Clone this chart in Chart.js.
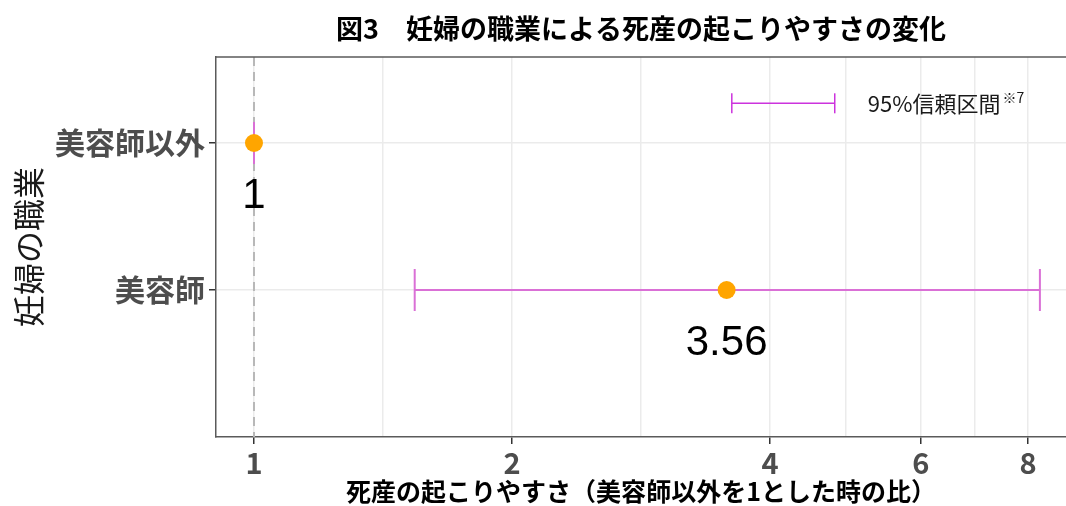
<!DOCTYPE html>
<html>
<head>
<meta charset="utf-8">
<script src="https://cdn.jsdelivr.net/npm/chart.js@4"></script>
<style>
  body { margin: 0; background: #fff; }
  .wrap { width: 1066px; height: 506px; }
</style>
</head>
<body>
<div class="wrap"><canvas id="myChart"></canvas></div>
<script>
// data
let categories = ["美容師以外", "美容師"];
let ratio = [1, 3.56];
let ratioLabels = ["1", "3.56"];
let lower = [1, 1.54];
let upper = [1, 8.26];

let xTicks = [1, 2, 4, 6, 8];
let xMinor = [1.414, 2.828, 4.899, 6.928];

// legend sample (placed in data space, top right)
let legendX = [3.61, 4.76];
let legendY = 0.73;
let legendText = "95%信頼区間";
let legendNote = "※7";

const narrow = '"Liberation Sans Narrow", "Noto Sans CJK JP", sans-serif';
const cjk = '"Noto Sans CJK JP", sans-serif';
const ciColor = "#da70d6";

let datasets = [];
datasets.push({
  type: "scatter",
  data: categories.map((c, i) => ({ x: ratio[i], y: i + 1 })),
  backgroundColor: "#ffa500",
  borderWidth: 0,
  pointRadius: 9,
  pointHoverRadius: 9,
});
categories.forEach((c, i) => {
  datasets.push({
    type: "line",
    data: [
      { x: lower[i], y: i + 1 },
      { x: upper[i], y: i + 1 },
    ],
    borderColor: ciColor,
    borderWidth: 2,
    pointStyle: "line",
    rotation: 90,
    pointRadius: 21,
    pointBorderColor: ciColor,
    pointBorderWidth: 2,
  });
});
datasets.push({
  type: "line",
  data: legendX.map((v) => ({ x: v, y: legendY })),
  borderColor: "#cc33dd",
  borderWidth: 1.5,
  pointStyle: "line",
  rotation: 90,
  pointRadius: 10,
  pointBorderColor: "#cc33dd",
  pointBorderWidth: 1.5,
});

const extras = {
  id: "extras",
  beforeDatasetsDraw(chart) {
    const { ctx, chartArea, scales } = chart;
    // reference line at 1
    let x1 = scales.x.getPixelForValue(1);
    ctx.save();
    ctx.strokeStyle = "#b8b8b8";
    ctx.lineWidth = 2;
    ctx.setLineDash([9, 6]);
    ctx.beginPath();
    ctx.moveTo(x1, chartArea.top);
    ctx.lineTo(x1, chartArea.bottom);
    ctx.stroke();
    ctx.setLineDash([]);
    // top border of panel
    ctx.strokeStyle = "#5a5a5a";
    ctx.lineWidth = 1.5;
    ctx.beginPath();
    ctx.moveTo(chartArea.left, chartArea.top);
    ctx.lineTo(chartArea.right, chartArea.top);
    ctx.stroke();
    ctx.restore();
  },
  afterDatasetsDraw(chart) {
    const { ctx, scales } = chart;
    ctx.save();
    ctx.fillStyle = "#000";
    ctx.font = '42px "Liberation Sans", Arial, sans-serif';
    ctx.textAlign = "center";
    ctx.textBaseline = "middle";
    categories.forEach((c, i) => {
      let x = scales.x.getPixelForValue(ratio[i]);
      let y = scales.y.getPixelForValue(i + 1) + 53;
      ctx.fillText(ratioLabels[i], x, y);
    });
    // legend label
    let lx = scales.x.getPixelForValue(legendX[1]) + 33;
    let ly = scales.y.getPixelForValue(legendY);
    ctx.textAlign = "left";
    ctx.fillStyle = "#1a1a1a";
    ctx.font = "22px " + cjk;
    ctx.fillText(legendText, lx, ly);
    let w = ctx.measureText(legendText).width;
    ctx.font = "14px " + cjk;
    ctx.fillText(legendNote, lx + w + 2, ly - 6);
    ctx.restore();
  },
};

const ctxEl = document.getElementById("myChart");
new Chart(ctxEl, {
  data: { datasets: datasets },
  plugins: [extras],
  options: {
    responsive: true,
    maintainAspectRatio: false,
    animation: false,
    layout: { autoPadding: false, padding: { left: 0, right: 0, top: 0, bottom: 0 } },
    plugins: {
      legend: { display: false },
      tooltip: { enabled: false },
      title: {
        display: true,
        fullSize: false,
        text: "図3\u3000妊婦の職業による死産の起こりやすさの変化",
        color: "#000",
        font: { family: narrow, size: 27, weight: "bold" },
        padding: { top: 13, bottom: 11.6 },
      },
    },
    scales: {
      x: {
        type: "logarithmic",
        min: 0.903,
        max: 8.86,
        afterBuildTicks(scale) {
          scale.ticks = xTicks.concat(xMinor).sort((a, b) => a - b).map((v) => ({ value: v }));
        },
        afterFit(scale) {
          scale.height = 69;
          scale.paddingLeft = 0;
          scale.paddingRight = 0;
        },
        ticks: {
          autoSkip: false,
          maxRotation: 0,
          padding: 2,
          color: "#4d4d4d",
          font: { family: narrow, size: 29, weight: "bold" },
          callback: (v) => (xTicks.includes(v) ? String(v) : ""),
        },
        grid: {
          color: "#ebebeb",
          lineWidth: 1.5,
          tickLength: 7,
          tickWidth: 1.5,
          tickColor: (c) => (c.tick && xTicks.includes(c.tick.value) ? "#333" : "rgba(0,0,0,0)"),
        },
        border: { color: "#5a5a5a", width: 1.5 },
        title: {
          display: true,
          text: "死産の起こりやすさ（美容師以外を1とした時の比）",
          color: "#000",
          font: { family: narrow, size: 25, weight: "bold" },
          padding: { top: 0, bottom: 0 },
        },
      },
      y: {
        type: "linear",
        reverse: true,
        min: 0.415,
        max: 3.0,
        afterBuildTicks(scale) {
          scale.ticks = categories.map((c, i) => ({ value: i + 1 }));
        },
        afterFit(scale) {
          scale.width = 216;
          scale.paddingTop = 0;
          scale.paddingBottom = 0;
        },
        ticks: {
          padding: 4,
          color: "#4d4d4d",
          font: { family: cjk, size: 30, weight: "bold" },
          callback: (v) => categories[v - 1],
        },
        grid: {
          color: "#ebebeb",
          lineWidth: 1.5,
          tickLength: 7,
          tickWidth: 1.5,
          tickColor: "#333",
        },
        border: { color: "#5a5a5a", width: 1.5 },
        title: {
          display: true,
          text: "妊婦の職業",
          color: "#1a1a1a",
          font: { family: cjk, size: 32 },
          padding: { top: 10 },
        },
      },
    },
  },
});
</script>
</body>
</html>
